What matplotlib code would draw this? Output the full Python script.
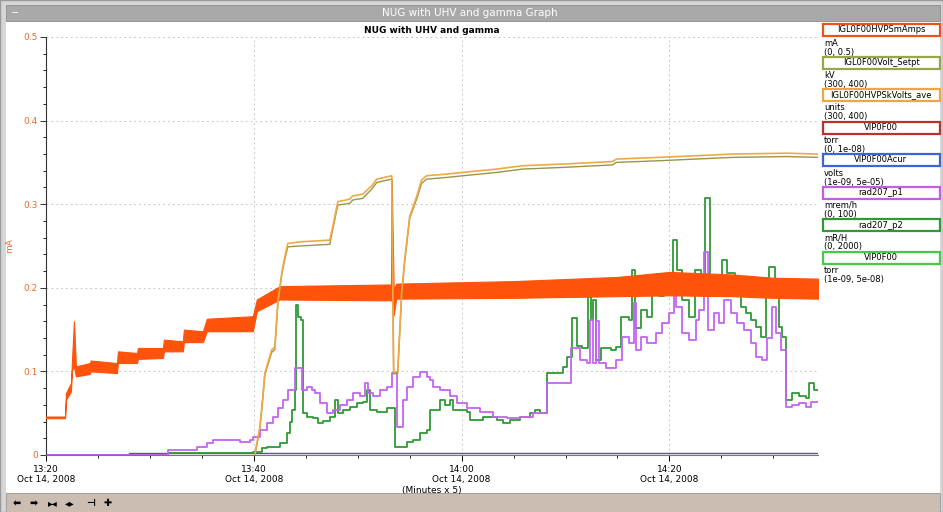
import matplotlib
matplotlib.use('Agg')
import matplotlib.pyplot as plt
from matplotlib.patches import Rectangle
from matplotlib.ticker import MultipleLocator, FixedLocator

W, H = 943, 512

# ---- data (minutes after 13:20, Oct 14 2008) ----
# IGL0F00HVPSmAmps, noisy trace given as lower/upper envelope
ma_t  = [0.0, 1.83, 1.92, 2.40, 2.50, 2.69, 2.88, 4.23, 4.30, 6.83, 6.92, 8.75, 8.85,
         11.25, 11.35, 13.17, 13.27, 15.10, 15.48, 19.90, 20.29, 22.50, 33.20, 33.27,
         33.46, 33.70, 45.0, 55.0, 60.0, 66.0, 70.0, 74.3]
ma_lo = [0.044, 0.044, 0.066, 0.076, 0.101, 0.106, 0.094, 0.097, 0.100, 0.098, 0.110, 0.110, 0.115,
         0.116, 0.124, 0.124, 0.135, 0.135, 0.148, 0.148, 0.172, 0.186, 0.185, 0.187,
         0.167, 0.187, 0.188, 0.190, 0.191, 0.190, 0.188, 0.187]
ma_hi = [0.046, 0.046, 0.074, 0.086, 0.113, 0.160, 0.106, 0.110, 0.113, 0.110, 0.124, 0.122, 0.128,
         0.128, 0.138, 0.136, 0.150, 0.148, 0.163, 0.166, 0.186, 0.202, 0.204, 0.330,
         0.198, 0.205, 0.208, 0.213, 0.219, 0.216, 0.212, 0.211]

# IGL0F00HVPSkVolts_ave and IGL0F00Volt_Setpt (scaled onto mA axis)
kv_t   = [20.10, 20.38, 20.58, 20.87, 21.06, 21.73, 22.02, 22.31, 22.69, 22.98, 23.27, 24.42,
          25.87, 27.31, 27.60, 28.08, 29.23, 29.52, 30.48, 31.35, 31.83, 33.27, 33.46, 33.85,
          34.23, 34.52, 35.00, 35.67, 36.15, 36.63, 38.56, 40.10, 43.37, 45.87, 49.71, 54.52,
          54.90, 59.04, 66.06, 71.25, 74.3]
kv_ave = [0.000, 0.020, 0.033, 0.070, 0.098, 0.126, 0.129, 0.182, 0.218, 0.237, 0.253, 0.255,
          0.256, 0.257, 0.273, 0.303, 0.306, 0.310, 0.312, 0.322, 0.330, 0.334, 0.099, 0.100,
          0.194, 0.233, 0.285, 0.309, 0.329, 0.334, 0.336, 0.338, 0.342, 0.346, 0.348, 0.351,
          0.354, 0.356, 0.360, 0.361, 0.360]
kv_set = [0.000, 0.018, 0.031, 0.068, 0.096, 0.123, 0.126, 0.180, 0.216, 0.234, 0.249, 0.250,
          0.251, 0.252, 0.270, 0.299, 0.301, 0.305, 0.307, 0.318, 0.326, 0.330, 0.097, 0.098,
          0.192, 0.231, 0.283, 0.306, 0.325, 0.330, 0.332, 0.334, 0.338, 0.342, 0.344, 0.347,
          0.350, 0.352, 0.356, 0.357, 0.356]

# VIP0F00Acur (near zero)
vip_t = [0.0, 8.0, 11.7, 74.3]
vip_v = [0.000, 0.002, 0.002, 0.002]

# rad207_p1
p1_t = [0.0, 11.73, 14.52, 15.48, 16.06, 18.65, 19.62, 19.90, 20.58, 21.25, 21.83, 22.31,
        22.79, 23.27, 23.94, 24.62, 25.10, 25.58, 25.87, 26.35, 27.02, 27.60, 28.27, 28.94,
        29.52, 30.19, 30.67, 30.96, 31.44, 32.12, 32.79, 33.27, 33.75, 34.33, 34.71, 35.29,
        35.96, 36.63, 36.92, 37.21, 37.88, 38.85, 39.52, 40.48, 41.73, 42.98, 44.33, 45.58,
        46.83, 48.17, 50.48, 51.35, 52.02, 52.31, 52.60, 52.98, 53.27, 53.94, 54.90, 55.48,
        56.15, 56.63, 56.83, 57.31, 57.88, 58.75, 59.33, 60.00, 60.48, 60.67, 61.25, 61.92,
        62.60, 62.88, 63.37, 63.75, 64.33, 64.81, 65.29, 65.96, 66.54, 67.21, 67.88, 68.37,
        68.94, 69.42, 69.90, 70.29, 70.77, 71.25, 71.83, 72.50, 73.17, 73.65, 74.3]
p1_v = [0.000, 0.006, 0.010, 0.014, 0.018, 0.016, 0.018, 0.022, 0.030, 0.038, 0.045, 0.056,
        0.066, 0.078, 0.104, 0.078, 0.081, 0.078, 0.074, 0.062, 0.050, 0.054, 0.060, 0.066,
        0.074, 0.070, 0.086, 0.074, 0.070, 0.078, 0.081, 0.098, 0.034, 0.066, 0.081, 0.093,
        0.099, 0.093, 0.090, 0.081, 0.078, 0.070, 0.062, 0.056, 0.051, 0.045, 0.044, 0.045,
        0.050, 0.086, 0.128, 0.114, 0.110, 0.161, 0.110, 0.160, 0.110, 0.104, 0.114, 0.141,
        0.134, 0.182, 0.126, 0.141, 0.134, 0.146, 0.158, 0.170, 0.197, 0.177, 0.146, 0.138,
        0.161, 0.173, 0.243, 0.150, 0.170, 0.158, 0.185, 0.170, 0.158, 0.150, 0.134, 0.117,
        0.114, 0.140, 0.177, 0.146, 0.126, 0.057, 0.060, 0.062, 0.057, 0.063, 0.063]

# rad207_p2
p2_t = [0.0, 11.73, 19.90, 20.77, 21.25, 22.50, 23.17, 23.46, 23.65, 23.94, 24.04, 24.23,
        24.52, 24.71, 25.10, 25.67, 26.15, 26.63, 27.31, 27.79, 28.08, 28.56, 29.23, 29.90,
        30.48, 30.87, 31.15, 31.83, 32.79, 33.56, 34.71, 35.29, 35.96, 36.63, 36.92, 37.88,
        38.37, 38.85, 39.13, 40.48, 40.77, 42.02, 43.37, 43.94, 44.62, 45.58, 46.54, 47.02,
        47.50, 48.17, 49.71, 50.10, 50.58, 51.06, 51.63, 52.12, 52.50, 52.69, 52.98, 53.46,
        54.42, 54.90, 55.38, 56.15, 56.44, 56.73, 57.31, 57.88, 58.37, 59.04, 59.52, 60.38,
        60.77, 61.25, 61.92, 62.50, 63.08, 63.46, 63.94, 64.81, 65.10, 65.58, 66.35, 66.92,
        67.40, 67.88, 68.37, 68.85, 69.33, 69.62, 70.19, 70.58, 70.87, 71.25, 71.83, 72.50,
        73.17, 73.46, 73.94, 74.3]
p2_v = [0.000, 0.002, 0.004, 0.008, 0.010, 0.014, 0.026, 0.040, 0.054, 0.078, 0.180, 0.165,
        0.161, 0.050, 0.045, 0.044, 0.038, 0.041, 0.045, 0.066, 0.050, 0.054, 0.057, 0.062,
        0.063, 0.078, 0.054, 0.051, 0.056, 0.010, 0.016, 0.018, 0.026, 0.030, 0.054, 0.066,
        0.060, 0.066, 0.054, 0.051, 0.042, 0.045, 0.042, 0.038, 0.042, 0.045, 0.050, 0.054,
        0.050, 0.098, 0.105, 0.117, 0.164, 0.130, 0.128, 0.189, 0.161, 0.185, 0.114, 0.128,
        0.126, 0.129, 0.165, 0.161, 0.221, 0.152, 0.173, 0.165, 0.194, 0.190, 0.197, 0.257,
        0.221, 0.185, 0.165, 0.221, 0.209, 0.307, 0.194, 0.209, 0.233, 0.218, 0.194, 0.177,
        0.170, 0.161, 0.153, 0.141, 0.197, 0.225, 0.206, 0.153, 0.141, 0.066, 0.074, 0.070,
        0.068, 0.086, 0.078, 0.078]

x_ticks = [0, 20, 40, 60]
x_labels = ['13:20\nOct 14, 2008', '13:40\nOct 14, 2008', '14:00\nOct 14, 2008', '14:20\nOct 14, 2008']
y_ticks = [0, 0.1, 0.2, 0.3, 0.4, 0.5]
y_labels = ['0', '0.1', '0.2', '0.3', '0.4', '0.5']

legend_items = [
    ('IGL0F00HVPSmAmps', 'mA', '(0, 0.5)', '#e8551c'),
    ('IGL0F00Volt_Setpt', 'kV', '(300, 400)', '#9aa54a'),
    ('IGL0F00HVPSkVolts_ave', 'units', '(300, 400)', '#f0a640'),
    ('VIP0F00', 'torr', '(0, 1e-08)', '#b8342a'),
    ('VIP0F00Acur', 'volts', '(1e-09, 5e-05)', '#3a64d8'),
    ('rad207_p1', 'mrem/h', '(0, 100)', '#c45ce8'),
    ('rad207_p2', 'mR/H', '(0, 2000)', '#2f9a35'),
    ('VIP0F00', 'torr', '(1e-09, 5e-08)', '#48c848'),
]

C_MA = '#ff520a'
C_AVE = '#f0a844'
C_SET = '#9a9448'
C_P1 = '#c463f2'
C_P2 = '#2f9a35'
AX_TXT = '#ee6a2a'


def fx(px):
    return px / W


def fy(py):
    return 1 - py / H


fig = plt.figure(figsize=(W / 100, H / 100), dpi=100, facecolor='white')

# window frame
fig.patches.append(Rectangle((0, 0), 1, 1, transform=fig.transFigure, facecolor='#d6d6d6',
                             edgecolor='#9a9a9a', lw=1, zorder=-5))
fig.patches.append(Rectangle((fx(6), fy(493)), fx(934), (493 - 21) / H, transform=fig.transFigure,
                             facecolor='white', edgecolor='none', zorder=-4))
fig.patches.append(Rectangle((fx(6), fy(21)), fx(934), 16 / H, transform=fig.transFigure,
                             facecolor='#a9a9a9', edgecolor='#8c8c8c', lw=0.6, zorder=-3))
fig.text(fx(470), fy(13), 'NUG with UHV and gamma Graph', color='white', fontsize=7.5,
         ha='center', va='center')
fig.text(fx(15), fy(13), '−', color='white', fontsize=7, ha='center', va='center')
# toolbar
fig.patches.append(Rectangle((fx(6), 0), fx(934), 19 / H, transform=fig.transFigure,
                             facecolor='#cbbdb1', edgecolor='#9a9a9a', lw=0.6, zorder=-3))
for x_px, glyph in zip([17, 34, 53, 70, 91, 108], ['⬅', '➡', '▸◂', '◂▸', '⊣', '✚']):
    fig.text(fx(x_px), fy(503), glyph, fontsize=7, ha='center', va='center', color='black',
             fontweight='bold')

ax = fig.add_axes([fx(46), fy(455), fx(818 - 46), (455 - 37) / H])
ax.set_facecolor('white')

ax.fill_between(ma_t, ma_lo, ma_hi, color=C_MA, lw=0.8, zorder=3)
ax.plot(kv_t, kv_set, color=C_SET, lw=1.0, zorder=4)
ax.plot(kv_t, kv_ave, color=C_AVE, lw=1.2, zorder=4)
ax.plot(vip_t, vip_v, color='#5a5a7a', lw=1.0, drawstyle='steps-post', zorder=2)
ax.plot(p2_t, p2_v, color=C_P2, lw=1.3, drawstyle='steps-post', zorder=2)
ax.plot(p1_t, p1_v, color=C_P1, lw=1.3, drawstyle='steps-post', zorder=2)

ax.set_xlim(0, 74.3)
ax.set_ylim(0, 0.5)
ax.xaxis.set_major_locator(FixedLocator(x_ticks))
ax.set_xticklabels(x_labels, fontsize=6.5, linespacing=1.25)
ax.xaxis.set_minor_locator(MultipleLocator(5))
ax.yaxis.set_major_locator(FixedLocator(y_ticks))
ax.set_yticklabels(y_labels, fontsize=6.5, color=AX_TXT)
ax.yaxis.set_minor_locator(MultipleLocator(0.02))
ax.tick_params(axis='both', which='major', length=4, width=0.7, pad=2)
ax.tick_params(axis='x', which='major', pad=3)
ax.tick_params(axis='both', which='minor', length=2, width=0.6)
ax.tick_params(axis='y', colors='#333333', labelcolor=AX_TXT)
ax.grid(True, which='major', color='#c8c8c8', ls=(0, (2, 3)), lw=0.7)
for side in ['top', 'right']:
    ax.spines[side].set_visible(False)
ax.spines['left'].set_color('#333333')
ax.spines['bottom'].set_color('#777777')
ax.set_ylabel('mA', color=AX_TXT, fontsize=6.5)
ax.yaxis.set_label_coords(-(46 - 14) / (818 - 46), 0.5)
ax.set_title('NUG with UHV and gamma', fontsize=6.5, fontweight='bold', pad=3)
fig.text(fx(432), fy(490), '(Minutes x 5)', fontsize=6.5, ha='center', va='center')

# legend column
for i, (name, unit, rng, col) in enumerate(legend_items):
    cy = 30 + 32.5 * i
    fig.patches.append(Rectangle((fx(823), fy(cy + 6)), fx(117), 12 / H, transform=fig.transFigure,
                                 facecolor='white', edgecolor=col, lw=1.6))
    fig.text(fx(881), fy(cy), name, fontsize=6, ha='center', va='center')
    fig.text(fx(824), fy(cy + 13), unit, fontsize=6, ha='left', va='center')
    fig.text(fx(824), fy(cy + 22), rng, fontsize=6, ha='left', va='center')

fig.savefig('out.png', dpi=100)
